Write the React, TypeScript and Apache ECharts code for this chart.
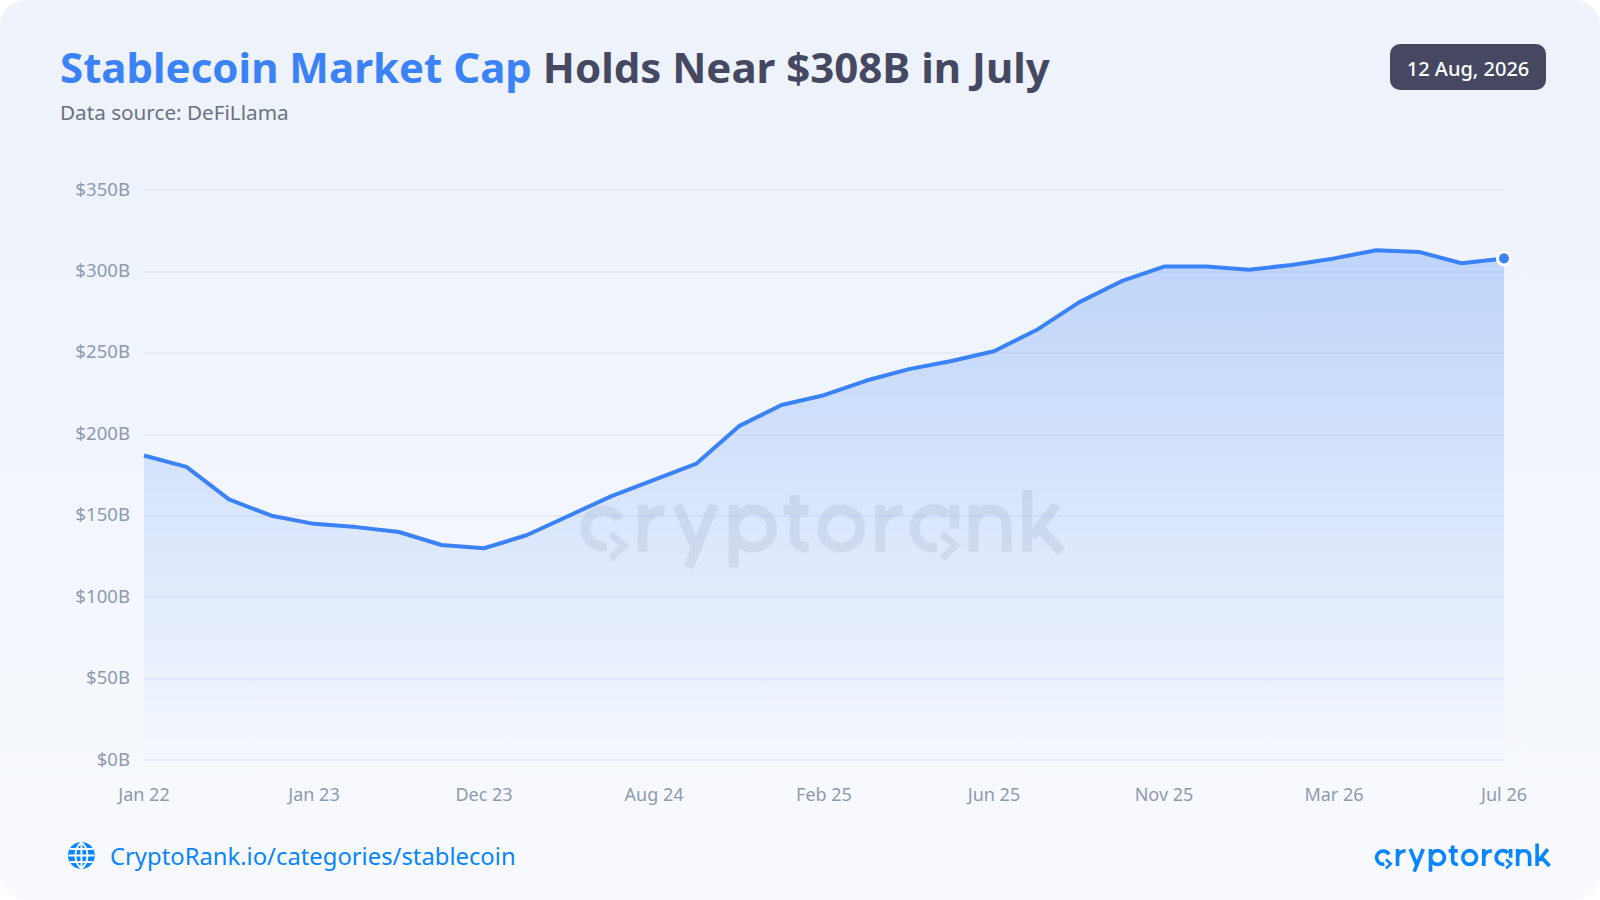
import React, { useEffect, useRef } from "react";
import * as echarts from "echarts";

const categories = [
  "Jan 22", "Apr 22", "Jul 22", "Oct 22", "Jan 23", "Apr 23", "Jul 23", "Oct 23", "Dec 23",
  "Feb 24", "Apr 24", "Jun 24", "Aug 24", "Sep 24", "Oct 24", "Dec 24", "Feb 25", "Mar 25",
  "Apr 25", "May 25", "Jun 25", "Jul 25", "Aug 25", "Oct 25", "Nov 25", "Dec 25", "Jan 26",
  "Feb 26", "Mar 26", "Apr 26", "May 26", "Jun 26", "Jul 26",
];
const marketCap = [
  187, 180, 160, 150, 145, 143, 140, 132, 130, 138, 150, 162, 172, 182, 205, 218, 224,
  233, 240, 245, 251, 264, 281, 294, 303, 303, 301, 304, 308, 313, 312, 305, 308,
];
const titleAccent = "Stablecoin Market Cap";
const titleRest = " Holds Near $308B in July";
const subtitle = "Data source: DeFiLlama";
const dateLabel = "12 Aug, 2026";
const footerLink = "CryptoRank.io/categories/stablecoin";

const FONT = '"Noto Sans", sans-serif';
const LOGO_LETTERS =
  "M38.3 -32.3 A18 18 0 1 0 25.8 -5.6 " +
  "M62 0 L62 -46.7 M62 -20 C62 -33 71 -41.5 84 -41.5 " +
  "M97 -46.7 L115.5 -2 M133 -46.7 L108 15.7 " +
  "M153 -46.7 L153 15.7 M191.4 -23.3 A19 19 0 1 1 153.4 -23.3 A19 19 0 1 1 191.4 -23.3 " +
  "M214 -56.7 L214 -16 C214 -7 219 -4.5 228 -4.5 M203 -41.7 L228 -41.7 " +
  "M279.7 -23.3 A19 19 0 1 1 241.7 -23.3 A19 19 0 1 1 279.7 -23.3 " +
  "M299.6 0 L299.6 -46.7 M299.6 -20 C299.6 -33 309 -41.5 322 -41.5 " +
  "M356.3 -4.6 A19 19 0 1 1 366.4 -36.7 M373.6 -46.7 L373.6 -23 " +
  "M393 0 L393 -46.7 M393 -24 C393 -36 400 -42 410 -42 C421 -42 426 -35 426 -24 L426 0 " +
  "M446.6 -61.7 L446.6 0 M476 -46.7 L451 -15 M460 -22 L481 0";
const LOGO_ARROWS = "M30 -17.7 L43.7 -6 L30 6.7 M361.3 -17.7 L375 -6 L361.3 6.7";
const GLOBE =
  "M0 -13 L0 13 M-13 0 L13 0 M-11.5 -6.5 L11.5 -6.5 M-11.5 6.5 L11.5 6.5 " +
  "M0 -13 C-8 -7 -8 7 0 13 M0 -13 C8 -7 8 7 0 13";

echarts.graphic.registerShape("crLetters", echarts.graphic.extendPath(LOGO_LETTERS, {}));
echarts.graphic.registerShape("crArrows", echarts.graphic.extendPath(LOGO_ARROWS, {}));
echarts.graphic.registerShape("crGlobe", echarts.graphic.extendPath(GLOBE, {}));

function logo(x: number, y: number, scale: number, color: string, opacity: number) {
  return {
    type: "group",
    x,
    y,
    scaleX: scale,
    scaleY: scale,
    z: 50,
    silent: true,
    children: [
      { type: "crLetters", z: 50, style: { fill: "none", stroke: color, lineWidth: 10, opacity } },
      { type: "crArrows", z: 50, style: { fill: "none", stroke: color, lineWidth: 7, opacity } },
    ],
  };
}

export default function App() {
  const ref = useRef<HTMLDivElement>(null);

  useEffect(() => {
    document.body.style.margin = "0";
    const chart = echarts.init(ref.current!, null, { renderer: "svg" });
    const lastIndex = marketCap.length - 1;
    chart.setOption({
      animation: false,
      backgroundColor: "transparent",
      title: [
        {
          text: `{a|${titleAccent}}{b|${titleRest}}`,
          left: 60,
          top: 45,
          padding: 0,
          textStyle: {
            rich: {
              a: { fontFamily: FONT, fontSize: 42, fontWeight: 700, color: "#3b82f6" },
              b: { fontFamily: FONT, fontSize: 42, fontWeight: 700, color: "#454860" },
            },
          },
        },
        {
          text: subtitle,
          left: 60,
          top: 101,
          padding: 0,
          textStyle: { fontFamily: FONT, fontSize: 20.7, fontWeight: 400, color: "#6b7280" },
        },
      ],
      grid: { left: 144, right: 96, top: 190, bottom: 140 },
      xAxis: {
        type: "category",
        boundaryGap: false,
        data: categories,
        axisLine: { show: false },
        axisTick: { show: false },
        splitLine: { show: false },
        axisLabel: {
          interval: 3,
          margin: 25,
          fontFamily: FONT,
          fontSize: 18,
          color: "#8f99ad",
          hideOverlap: false,
        },
      },
      yAxis: {
        type: "value",
        min: 0,
        max: 350,
        interval: 50,
        axisLine: { show: false },
        axisTick: { show: false },
        axisLabel: {
          margin: 14,
          formatter: (v: number) => `{v|$${v}B}`,
          rich: {
            v: {
              fontFamily: FONT,
              fontSize: 18.6,
              color: "#8f99ad",
              padding: [0, 0, 4, 0],
            },
          },
        },
        splitLine: { lineStyle: { color: "#e4e9f5", width: 1.5 } },
      },
      series: [
        {
          type: "line",
          data: marketCap,
          symbol: "none",
          smooth: false,
          lineStyle: { color: "#3b82f6", width: 4, join: "round" },
          areaStyle: {
            opacity: 1,
            color: new echarts.graphic.LinearGradient(0, 0, 0, 1, [
              { offset: 0, color: "rgba(59,130,246,0.27)" },
              { offset: 1, color: "rgba(59,130,246,0.01)" },
            ]),
          },
          z: 3,
        },
        {
          type: "scatter",
          data: [[lastIndex, marketCap[lastIndex]]],
          symbol: "circle",
          symbolSize: 13,
          clip: false,
          itemStyle: { color: "#3b82f6", borderColor: "#ffffff", borderWidth: 3, opacity: 1 },
          z: 60,
        },
      ],
      graphic: [
        logo(580.6, 551.7, 1, "#64748b", 0.12),
        logo(1375, 866, 0.3626, "#0a84ff", 1),
        {
          type: "rect",
          z: 70,
          shape: { x: 1390, y: 44, width: 156, height: 46, r: 10 },
          style: { fill: "#454860" },
        },
        {
          type: "text",
          z: 71,
          x: 1468,
          y: 68,
          style: {
            text: dateLabel,
            fontFamily: FONT,
            fontSize: 20,
            fontWeight: 500,
            fill: "#ffffff",
            align: "center",
            verticalAlign: "middle",
          },
        },
        { type: "circle", z: 70, x: 81.4, y: 855.5, shape: { cx: 0, cy: 0, r: 13.5 }, style: { fill: "#0a84ff" } },
        {
          type: "crGlobe",
          z: 71,
          x: 81.4,
          y: 855.5,
          style: { fill: "none", stroke: "#f6f9fe", lineWidth: 2 },
        },
        {
          type: "text",
          z: 70,
          x: 110,
          y: 855.5,
          style: {
            text: footerLink,
            fontFamily: FONT,
            fontSize: 23.8,
            fontWeight: 400,
            fill: "#0a84ff",
            align: "left",
            verticalAlign: "middle",
          },
        },
      ],
    });
    return () => chart.dispose();
  }, []);

  return (
    <div style={{ position: "absolute", left: 0, top: 0, width: 1600, height: 900, background: "#ffffff" }}>
      <div
        style={{
          position: "absolute",
          inset: 0,
          borderRadius: 26,
          background: "linear-gradient(180deg, #edf2fb 0%, #f0f4fc 40%, #f8fafe 100%)",
        }}
      />
      <div ref={ref} style={{ position: "absolute", left: 0, top: 0, width: 1600, height: 900 }} />
    </div>
  );
}
